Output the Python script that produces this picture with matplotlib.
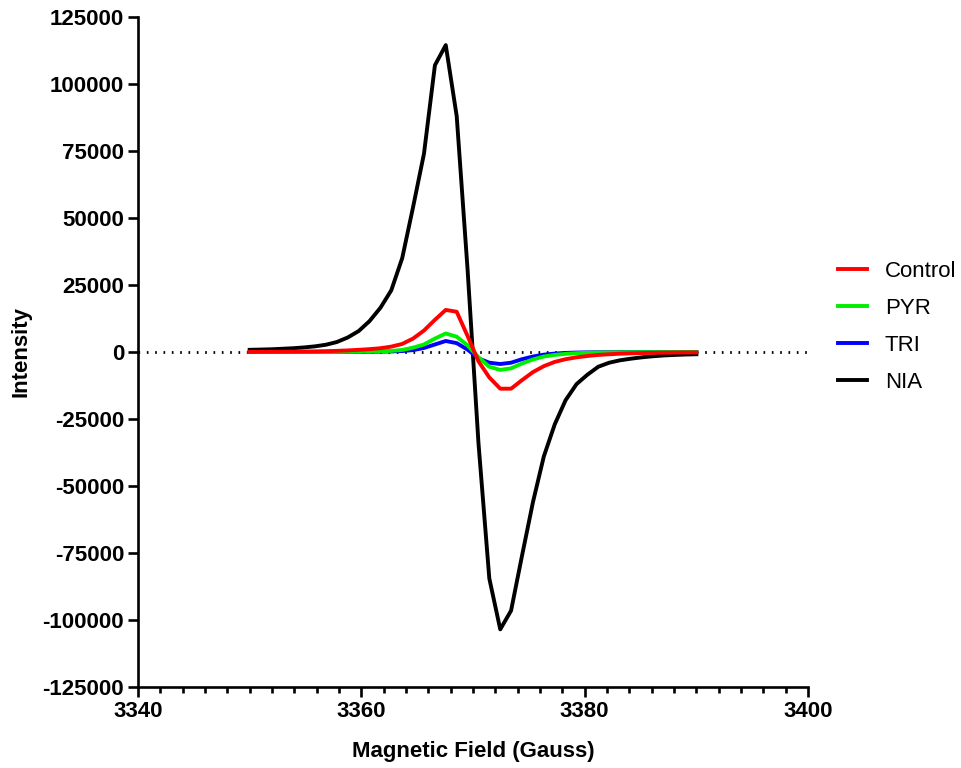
import matplotlib
matplotlib.use("Agg")
import matplotlib.pyplot as plt
from matplotlib.ticker import MultipleLocator

# field sweep (Gauss)
field = [3350.00, 3350.98, 3351.95, 3352.93, 3353.90, 3354.88, 3355.85, 3356.83,
         3357.80, 3358.78, 3359.76, 3360.73, 3361.71, 3362.68, 3363.66, 3364.63,
         3365.61, 3366.59, 3367.56, 3368.54, 3369.51, 3370.49, 3371.46, 3372.44,
         3373.41, 3374.39, 3375.37, 3376.34, 3377.32, 3378.29, 3379.27, 3380.24,
         3381.22, 3382.20, 3383.17, 3384.15, 3385.12, 3386.10, 3387.07, 3388.05,
         3389.02, 3390.00]

control = [0, 50, 80, 100, 130, 170, 220, 300, 420, 580, 800, 1050, 1400, 2000,
           3000, 5000, 8000, 12000, 15700, 15000, 6000, -3500, -9500, -13700,
           -13700, -10500, -7500, -5300, -3700, -2700, -2000, -1500, -1100, -850,
           -650, -500, -400, -320, -260, -220, -190, -170]

pyr = [0, 0, 0, 0, 0, 10, 20, 30, 50, 70, 100, 150, 250, 400, 750, 1600, 2800,
       5000, 6900, 5700, 2500, -2000, -5500, -6700, -6100, -4300, -2800, -1700,
       -1100, -700, -450, -300, -220, -160, -120, -100, -80, -70, -60, -50, -50, -40]

tri = [0, 0, 0, 0, 0, 0, 10, 20, 30, 40, 50, 80, 120, 200, 350, 700, 1500, 2800,
       4100, 3300, 900, -2400, -4000, -4500, -4000, -2700, -1700, -1000, -600,
       -350, -220, -150, -120, -100, -80, -70, -60, -50, -40, -40, -30, -30]

nia = [800, 900, 1000, 1200, 1400, 1700, 2100, 2700, 3700, 5400, 7800, 11500,
       16500, 23000, 35000, 54000, 74000, 107000, 114500, 88000, 31000, -34000,
       -84500, -103500, -96500, -76000, -56000, -39000, -27000, -18000, -12000,
       -8500, -5500, -4000, -3100, -2500, -2000, -1600, -1300, -1100, -950, -850]

plt.rcParams['font.family'] = ['Liberation Sans', 'DejaVu Sans']
plt.rcParams['axes.unicode_minus'] = False

fig = plt.figure(figsize=(9.61, 7.68), dpi=100)
ax = fig.add_axes([0.1436, 0.1055, 0.6972, 0.8724])

ax.axhline(0, color='black', lw=2, linestyle=(0, (0.6, 2.4)), zorder=1)

lw = 2.8
l_nia, = ax.plot(field, nia, color='black', lw=lw, label='NIA', zorder=2)
l_tri, = ax.plot(field, tri, color='#0000FF', lw=lw, label='TRI', zorder=3)
l_pyr, = ax.plot(field, pyr, color='#00EE00', lw=lw, label='PYR', zorder=4)
l_ctl, = ax.plot(field, control, color='#FF0000', lw=lw, label='Control', zorder=5)

ax.set_xlim(3340, 3400)
ax.set_ylim(-125000, 125000)
ax.xaxis.set_major_locator(MultipleLocator(20))
ax.xaxis.set_minor_locator(MultipleLocator(2))
ax.yaxis.set_major_locator(MultipleLocator(25000))

for side in ['top', 'right']:
    ax.spines[side].set_visible(False)
for side in ['left', 'bottom']:
    ax.spines[side].set_linewidth(1.9)

ax.tick_params(which='major', length=7, width=1.9, labelsize=16, pad=3)
ax.tick_params(which='minor', length=4.5, width=1.9)
for lab in ax.get_xticklabels() + ax.get_yticklabels():
    lab.set_fontweight('bold')

ax.set_xlabel('Magnetic Field (Gauss)', fontsize=16, fontweight='bold', labelpad=14)
ax.set_ylabel('Intensity', fontsize=16, fontweight='bold', labelpad=8)

ax.legend(handles=[l_ctl, l_pyr, l_tri, l_nia], loc='center left',
          bbox_to_anchor=(1.045, 0.537), frameon=False, fontsize=16,
          handlelength=1.3, handletextpad=0.8, labelspacing=0.72,
          borderpad=0, borderaxespad=0)

fig.savefig('out.png', dpi=100)
